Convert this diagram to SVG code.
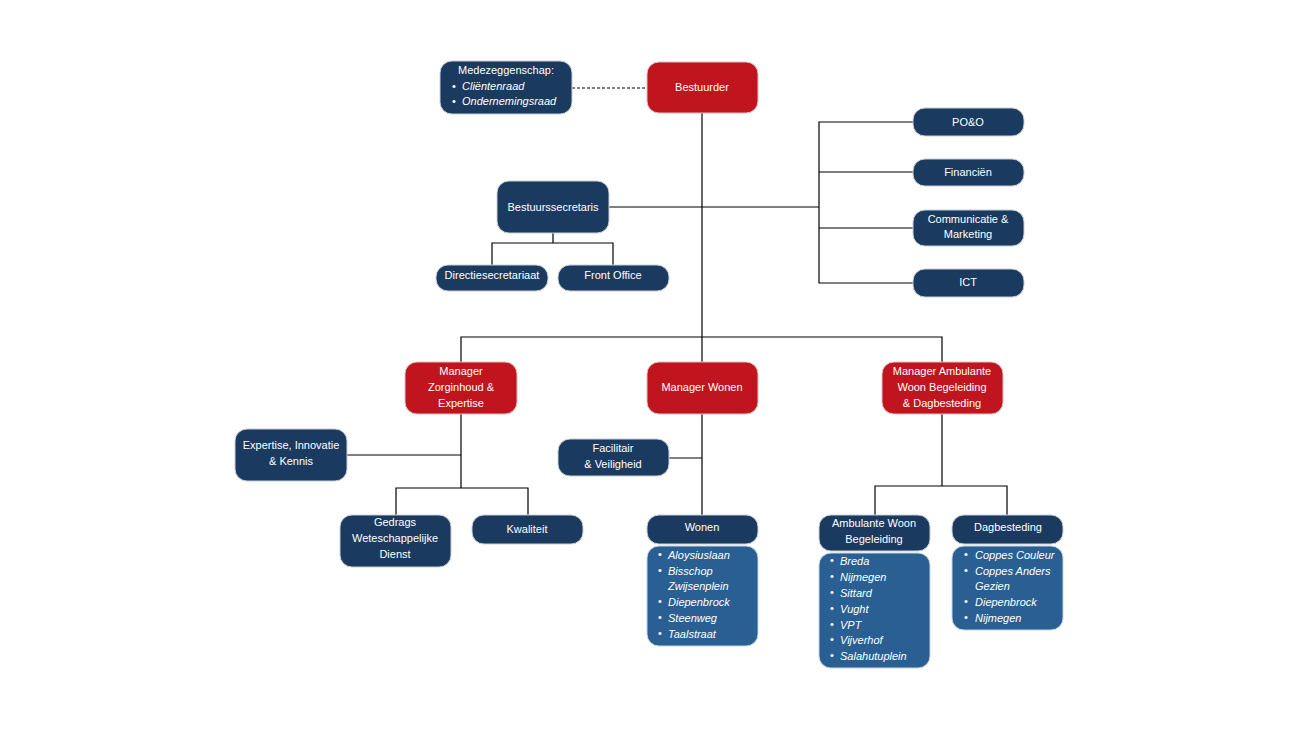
<svg xmlns="http://www.w3.org/2000/svg" width="1300" height="731" viewBox="0 0 1300 731">
<style>
.n{fill:#1b3a60;stroke:#c8ced6;stroke-width:1}
.r{fill:#c0141e;stroke:#e0c0c0;stroke-width:1}
.l{fill:#2a5f93;stroke:#c8d4e0;stroke-width:1}
text{font-family:"Liberation Sans",Arial,sans-serif;font-size:11px;fill:#fff}
.c{text-anchor:middle}
.i{font-style:italic}
.w line,.w path{stroke:#000;stroke-width:1.2;fill:none}
</style>
<rect width="1300" height="731" fill="#fff"/>
<g class="w" id="connectors">
<line x1="572" y1="88" x2="647" y2="88" stroke-dasharray="3,2"/>
<line x1="702" y1="113" x2="702" y2="362"/>
<line x1="609" y1="207" x2="819" y2="207"/>
<path d="M913 122H819V283H913M819 172H913M819 228H913"/>
<path d="M553 233V243M492 265V243H613V265"/>
<path d="M461 362V337H942V362"/>
<path d="M461 414V488M346 455H461M396 515V488H528V515"/>
<path d="M702 414V515M669 458H702"/>
<path d="M942 414V486M875 515V486H1007V515"/>
</g>
<g id="medezeggenschap"><rect class="n" x="440" y="61" width="132" height="53" rx="12"/>
<text class="c" x="506" y="74">Medezeggenschap:</text>
<text x="452" y="90">•</text><text class="i" x="462" y="90">Cliëntenraad</text>
<text x="452" y="105">•</text><text class="i" x="462" y="105">Ondernemingsraad</text></g>
<g id="bestuurder"><rect class="r" x="647" y="62" width="111" height="51" rx="12"/><text class="c" x="702" y="91">Bestuurder</text></g>
<g id="poeno"><rect class="n" x="913" y="108" width="111" height="28" rx="12"/><text class="c" x="968" y="126">PO&amp;O</text></g>
<g id="financien"><rect class="n" x="913" y="159" width="111" height="27" rx="12"/><text class="c" x="968" y="176">Financiën</text></g>
<g id="communicatie"><rect class="n" x="913" y="210" width="111" height="36" rx="12"/><text class="c" x="968" y="223">Communicatie &amp;</text><text class="c" x="968" y="238">Marketing</text></g>
<g id="ict"><rect class="n" x="913" y="269" width="111" height="28" rx="12"/><text class="c" x="968" y="286">ICT</text></g>
<g id="bestuurssecretaris"><rect class="n" x="497" y="181" width="112" height="52" rx="12"/><text class="c" x="553" y="211">Bestuurssecretaris</text></g>
<g id="directiesecretariaat"><rect class="n" x="436" y="265" width="112" height="26" rx="12"/><text class="c" x="492" y="279">Directiesecretariaat</text></g>
<g id="frontoffice"><rect class="n" x="558" y="265" width="111" height="26" rx="12"/><text class="c" x="613" y="279">Front Office</text></g>
<g id="mgr-zorg"><rect class="r" x="405" y="362" width="112" height="52" rx="12"/><text class="c" x="461" y="375">Manager</text><text class="c" x="461" y="391">Zorginhoud &amp;</text><text class="c" x="461" y="407">Expertise</text></g>
<g id="mgr-wonen"><rect class="r" x="647" y="362" width="111" height="52" rx="12"/><text class="c" x="702" y="391">Manager Wonen</text></g>
<g id="mgr-amb"><rect class="r" x="882" y="362" width="121" height="52" rx="12"/><text class="c" x="942" y="375">Manager Ambulante</text><text class="c" x="942" y="391">Woon Begeleiding</text><text class="c" x="942" y="407">&amp; Dagbesteding</text></g>
<g id="expertise"><rect class="n" x="235" y="429" width="112" height="52" rx="12"/><text class="c" x="291" y="449">Expertise, Innovatie</text><text class="c" x="291" y="465">&amp; Kennis</text></g>
<g id="gedrags"><rect class="n" x="340" y="515" width="111" height="52" rx="12"/><text class="c" x="395" y="526">Gedrags</text><text class="c" x="395" y="542">Weteschappelijke</text><text class="c" x="395" y="558">Dienst</text></g>
<g id="kwaliteit"><rect class="n" x="472" y="515" width="111" height="29" rx="12"/><text class="c" x="527" y="533">Kwaliteit</text></g>
<g id="facilitair"><rect class="n" x="558" y="439" width="111" height="37" rx="12"/><text class="c" x="613" y="452">Facilitair</text><text class="c" x="613" y="468">&amp; Veiligheid</text></g>
<g id="wonen"><rect class="n" x="647" y="515" width="111" height="29" rx="12"/><text class="c" x="702" y="531">Wonen</text>
<rect class="l" x="647" y="546" width="111" height="100" rx="12"/>
<g class="i"><text x="668" y="559">Aloysiuslaan</text><text x="668" y="575">Bisschop</text><text x="668" y="590">Zwijsenplein</text><text x="668" y="606">Diepenbrock</text><text x="668" y="622">Steenweg</text><text x="668" y="638">Taalstraat</text></g>
<g font-size="8"><text x="658" y="558">•</text><text x="658" y="574">•</text><text x="658" y="605">•</text><text x="658" y="621">•</text><text x="658" y="637">•</text></g></g>
<g id="ambwoon"><rect class="n" x="819" y="515" width="111" height="36" rx="12"/><text class="c" x="874" y="527">Ambulante Woon</text><text class="c" x="874" y="543">Begeleiding</text>
<rect class="l" x="819" y="553" width="111" height="115" rx="12"/>
<g class="i"><text x="840" y="565">Breda</text><text x="840" y="581">Nijmegen</text><text x="840" y="597">Sittard</text><text x="840" y="613">Vught</text><text x="840" y="629">VPT</text><text x="840" y="644">Vijverhof</text><text x="840" y="660">Salahutuplein</text></g>
<g font-size="8"><text x="830" y="564">•</text><text x="830" y="580">•</text><text x="830" y="596">•</text><text x="830" y="612">•</text><text x="830" y="628">•</text><text x="830" y="643">•</text><text x="830" y="659">•</text></g></g>
<g id="dagbesteding"><rect class="n" x="952" y="515" width="111" height="29" rx="12"/><text class="c" x="1008" y="531">Dagbesteding</text>
<rect class="l" x="952" y="546" width="111" height="84" rx="12"/>
<g class="i"><text x="975" y="559">Coppes Couleur</text><text x="975" y="575">Coppes Anders</text><text x="975" y="590">Gezien</text><text x="975" y="606">Diepenbrock</text><text x="975" y="622">Nijmegen</text></g>
<g font-size="8"><text x="964" y="558">•</text><text x="964" y="574">•</text><text x="964" y="605">•</text><text x="964" y="621">•</text></g></g>
</svg>
